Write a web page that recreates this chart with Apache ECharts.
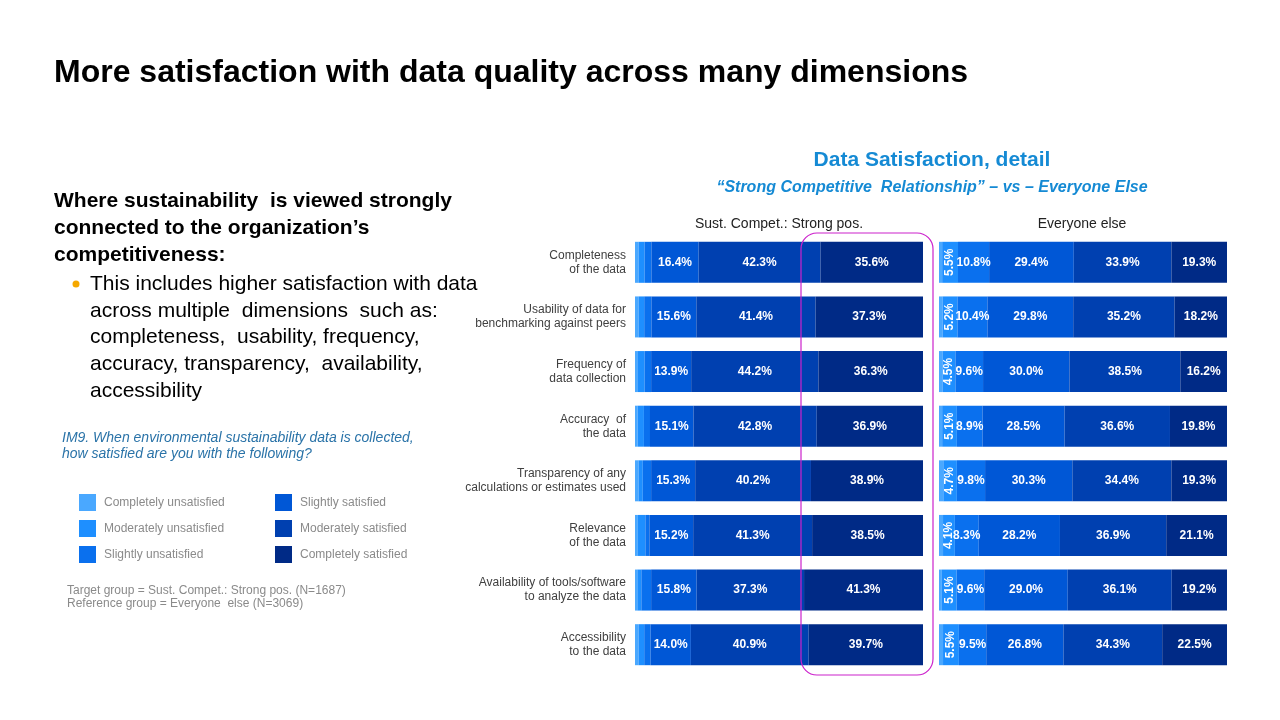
<!DOCTYPE html>
<html>
<head>
<meta charset="utf-8">
<script src="https://cdn.jsdelivr.net/npm/echarts@6/dist/echarts.min.js"></script>
<style>
  html, body { margin: 0; padding: 0; background: #fff; }
  #main { width: 1280px; height: 720px; }
</style>
</head>
<body>
<div id="main"></div>
<script>
// categories, top to bottom
var categories = [
    'Completeness\nof the data',
    'Usability of data for\nbenchmarking against peers',
    'Frequency of\ndata collection',
    'Accuracy  of\nthe data',
    'Transparency of any\ncalculations or estimates used',
    'Relevance\nof the data',
    'Availability of tools/software\nto analyze the data',
    'Accessibility\nto the data'
];

var levelNames = [
    'Completely unsatisfied',
    'Moderately unsatisfied',
    'Slightly unsatisfied',
    'Slightly satisfied',
    'Moderately satisfied',
    'Completely satisfied'
];

// Sust. Compet.: Strong pos. (%)
var spCompletelyUnsat = [1.2, 1.2, 0.8, 0.9, 1.2, 1.0, 0.8, 1.2];
var spModeratelyUnsat = [2.1, 2.0, 2.5, 2.2, 1.5, 2.6, 1.4, 2.0];
var spSlightlyUnsat   = [2.4, 2.5, 2.3, 2.1, 2.9, 1.4, 3.4, 2.2];
var spSlightlySat     = [16.4, 15.6, 13.9, 15.1, 15.3, 15.2, 15.8, 14.0];
var spModeratelySat   = [42.3, 41.4, 44.2, 42.8, 40.2, 41.3, 37.3, 40.9];
var spCompletelySat   = [35.6, 37.3, 36.3, 36.9, 38.9, 38.5, 41.3, 39.7];

// Everyone else (%)
var eeCompletelyUnsat = [1.1, 1.2, 1.2, 1.1, 1.5, 1.4, 1.0, 1.4];
var eeModeratelyUnsat = [5.5, 5.2, 4.5, 5.1, 4.7, 4.1, 5.1, 5.5];
var eeSlightlyUnsat   = [10.8, 10.4, 9.6, 8.9, 9.8, 8.3, 9.6, 9.5];
var eeSlightlySat     = [29.4, 29.8, 30.0, 28.5, 30.3, 28.2, 29.0, 26.8];
var eeModeratelySat   = [33.9, 35.2, 38.5, 36.6, 34.4, 36.9, 36.1, 34.3];
var eeCompletelySat   = [19.3, 18.2, 16.2, 19.8, 19.3, 21.1, 19.2, 22.5];

var levelColors = ['#4aa8ff', '#1e8fff', '#0a70ee', '#0057d6', '#0040b0', '#002a86'];

var FONT = '"Liberation Sans", Arial, sans-serif';

function pct(p) {
    return p.value.toFixed(1) + '%';
}

function makeSeries(name, data, idx, side, labelMode) {
    var label = { show: false };
    if (labelMode) {
        label = {
            show: true,
            position: 'inside',
            color: '#fff',
            fontFamily: FONT,
            fontWeight: 'bold',
            fontSize: 12,
            formatter: pct
        };
        if (labelMode === 'rotate') {
            label.rotate = 90;
        }
    }
    return {
        name: name,
        type: 'bar',
        stack: side,
        xAxisIndex: side === 'sp' ? 0 : 1,
        yAxisIndex: side === 'sp' ? 0 : 1,
        barWidth: 41,
        itemStyle: { color: levelColors[idx] },
        label: label,
        emphasis: { disabled: true },
        data: data
    };
}

var spData = [spCompletelyUnsat, spModeratelyUnsat, spSlightlyUnsat, spSlightlySat, spModeratelySat, spCompletelySat];
var eeData = [eeCompletelyUnsat, eeModeratelyUnsat, eeSlightlyUnsat, eeSlightlySat, eeModeratelySat, eeCompletelySat];
var spLabels = [null, null, null, 'normal', 'normal', 'normal'];
var eeLabels = [null, 'rotate', 'normal', 'normal', 'normal', 'normal'];

var series = [];
for (var i = 0; i < levelNames.length; i++) {
    series.push(makeSeries(levelNames[i], spData[i], i, 'sp', spLabels[i]));
}
for (var j = 0; j < levelNames.length; j++) {
    series.push(makeSeries(levelNames[j], eeData[j], j, 'ee', eeLabels[j]));
}

function txt(text, x, y, font, fill, align) {
    return {
        type: 'text',
        x: x,
        y: y,
        style: {
            text: text,
            font: font,
            fill: fill,
            align: align || 'left',
            textAlign: align || 'left',
            verticalAlign: 'middle',
            textVerticalAlign: 'middle'
        }
    };
}

var bodyBold = 'bold 21px ' + FONT;
var body = '21px ' + FONT;

var legendBase = {
    orient: 'vertical', top: 494, padding: 0,
    icon: 'rect', itemWidth: 17, itemHeight: 17, itemGap: 9,
    selectedMode: false,
    textStyle: { color: '#8a8a8a', fontSize: 12, fontFamily: FONT, padding: [0, 0, 0, 3] }
};

var myChart = echarts.init(document.getElementById('main'));

var option = {
    animation: false,
    grid: [
        { left: 635, top: 235, width: 288, height: 437 },
        { left: 939, top: 235, width: 288, height: 437 }
    ],
    xAxis: [
        { type: 'value', gridIndex: 0, min: 0, max: 100, show: false },
        { type: 'value', gridIndex: 1, min: 0, max: 100, show: false }
    ],
    yAxis: [
        {
            type: 'category', gridIndex: 0, inverse: true, data: categories,
            axisLine: { show: false }, axisTick: { show: false },
            axisLabel: { color: '#404040', fontSize: 12, lineHeight: 14, margin: 9, fontFamily: FONT }
        },
        {
            type: 'category', gridIndex: 1, inverse: true, data: categories,
            axisLine: { show: false }, axisTick: { show: false }, axisLabel: { show: false }
        }
    ],
    legend: [
        Object.assign({}, legendBase, { data: levelNames.slice(0, 3), left: 79 }),
        Object.assign({}, legendBase, { data: levelNames.slice(3), left: 275 })
    ],
    series: series,
    graphic: [
        txt('More satisfaction with data quality across many dimensions', 54, 73, 'bold 32px ' + FONT, '#000'),
        txt('Where sustainability  is viewed strongly', 54, 201, bodyBold, '#000'),
        txt('connected to the organization\u2019s', 54, 228, bodyBold, '#000'),
        txt('competitiveness:', 54, 255, bodyBold, '#000'),
        { type: 'circle', shape: { cx: 76, cy: 284, r: 3.5 }, style: { fill: '#f5a800' } },
        txt('This includes higher satisfaction with data', 90, 284, body, '#000'),
        txt('across multiple  dimensions  such as:', 90, 311, body, '#000'),
        txt('completeness,  usability, frequency,', 90, 337, body, '#000'),
        txt('accuracy, transparency,  availability,', 90, 364, body, '#000'),
        txt('accessibility', 90, 391, body, '#000'),
        txt('IM9. When environmental sustainability data is collected,', 62, 438, 'italic 14px ' + FONT, '#2a73a8'),
        txt('how satisfied are you with the following?', 62, 454, 'italic 14px ' + FONT, '#2a73a8'),
        txt('Target group = Sust. Compet.: Strong pos. (N=1687)', 67, 591, '12px ' + FONT, '#8a8a8a'),
        txt('Reference group = Everyone  else (N=3069)', 67, 604, '12px ' + FONT, '#8a8a8a'),
        txt('Data Satisfaction, detail', 932, 160, 'bold 21px ' + FONT, '#158ad4', 'center'),
        txt('\u201cStrong Competitive  Relationship\u201d \u2013 vs \u2013 Everyone Else', 932, 188, 'italic bold 16px ' + FONT, '#158ad4', 'center'),
        txt('Sust. Compet.: Strong pos.', 779, 224, '14px ' + FONT, '#222', 'center'),
        txt('Everyone else', 1082, 224, '14px ' + FONT, '#222', 'center'),
        {
            type: 'rect', z: 100,
            shape: { x: 801, y: 233, width: 132, height: 442, r: 16 },
            style: { fill: 'none', stroke: '#cc22cc', lineWidth: 1.2 }
        }
    ]
};

myChart.setOption(option);
</script>
</body>
</html>
